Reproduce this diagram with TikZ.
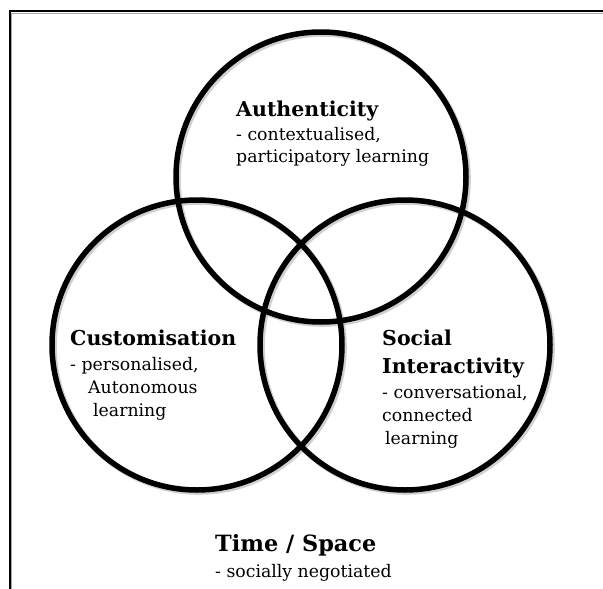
\documentclass[tikz,border=0pt]{standalone}
\usepackage{fontspec}
\setmainfont{DejaVu Serif}
\begin{document}
\begin{tikzpicture}[x=1pt,y=-1pt,
  ring/.style={draw=black,line width=5.5pt},
  ringshadow/.style={draw=black!30,line width=6pt,opacity=0.6},
  lbl/.style={anchor=base west,inner sep=0pt,text=black},
  headfont/.style={font=\bfseries\fontsize{20.5}{24}\selectfont},
  subfont/.style={font=\fontsize{17.3}{21}\selectfont},
  bigfont/.style={font=\bfseries\fontsize{22.4}{26}\selectfont}]
\useasboundingbox (0,0) rectangle (603,589);
\fill[white] (0,0) rectangle (603,589);
% frame
\draw[black!35,line width=1pt] (11.5,13) -- (603,13);
\draw[black!35,line width=1pt] (11.5,13) -- (11.5,589);
\draw[black,line width=2.2pt] (9,11) -- (603,11);
\draw[black,line width=2.2pt] (10,10) -- (10,589);
% shadows
\foreach \cx/\cy in {321/177,197/345,405/345}
  \draw[ringshadow] (\cx+1.8,\cy+1.8) circle [radius=145pt];
% circles
\draw[ring] (321,177) circle [radius=145pt];
\draw[ring] (197,345) circle [radius=145pt];
\draw[ring] (405,345) circle [radius=145pt];
% Authenticity
\node[lbl,headfont] (a1) at (236,116) {Authenticity};
\node[lbl,subfont] (a2) at (236,140) {- contextualised,};
\node[lbl,subfont] (a3) at (236,162) {participatory learning};
% Customisation
\node[lbl,headfont] (c1) at (70,345) {Customisation};
\node[lbl,subfont] (c2) at (70,370) {- personalised,};
\node[lbl,subfont] (c3) at (88,393) {Autonomous};
\node[lbl,subfont] (c4) at (93,416) {learning};
% Social Interactivity
\node[lbl,headfont] (s1) at (382,345) {Social};
\node[lbl,headfont] (s2) at (382,373) {Interactivity};
\node[lbl,subfont] (s3) at (382,398) {- conversational,};
\node[lbl,subfont] (s4) at (382,421) {connected};
\node[lbl,subfont] (s5) at (385,444) {learning};
% Time / Space
\node[lbl,bigfont] (t1) at (215,551) {Time / Space};
\node[lbl,subfont] (t2) at (215,577) {- socially negotiated};
\end{tikzpicture}
\end{document}
